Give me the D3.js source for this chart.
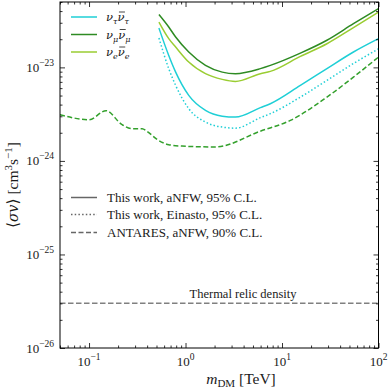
<!DOCTYPE html>
<html>
<head>
<meta charset="utf-8">
<script src="https://cdn.jsdelivr.net/npm/d3@7"></script>
<style>
  body { margin: 0; background: #fff; }
  svg { display: block; }
  text { font-family: "Liberation Serif", "DejaVu Serif", serif; fill: #1a1a1a; }
  .greek { font-family: "DejaVu Serif", serif; font-style: italic; }
</style>
</head>
<body>
<svg id="chart" width="390" height="390"></svg>
<script>
// masses (TeV) shared by the "this work" curves
const massGrid = [0.53, 0.67, 0.79, 1.08, 1.61, 2.4, 3.29, 5.97, 7.57, 15.5, 29.2, 55, 100];

// <sigma v> limits, cm^3 s^-1
const numuANFW  = [3.67e-23, 2.7e-23, 2.11e-23, 1.46e-23, 1.05e-23, 8.9e-24, 8.57e-24, 9.7e-24, 1.05e-23, 1.42e-23, 1.95e-23, 2.93e-23, 4.25e-23];
const nueANFW   = [3.05e-23, 2.03e-23, 1.65e-23, 1.14e-23, 8.57e-24, 7.44e-24, 7.08e-24, 8.57e-24, 9.06e-24, 1.31e-23, 1.79e-23, 2.66e-23, 3.9e-23];
const nutauANFW = [2.63e-23, 1.34e-23, 8.9e-24, 5.02e-24, 3.47e-24, 3.01e-24, 2.94e-24, 3.71e-24, 4.09e-24, 6.42e-24, 9.7e-24, 1.46e-23, 2.03e-23];
const nutauEinasto = [2.06e-23, 9.7e-24, 6.42e-24, 3.62e-24, 2.6e-24, 2.3e-24, 2.24e-24, 2.9e-24, 3.2e-24, 4.81e-24, 7.26e-24, 1.1e-23, 1.58e-23];

// ANTARES aNFW 90% C.L.
const antaresMass = [0.05, 0.1, 0.15, 0.22, 0.28, 0.355, 0.4, 0.51, 0.67, 0.92, 2.04, 5.97, 12.2, 29.2, 55, 100];
const antaresLimit = [3.12e-24, 2.76e-24, 3.44e-24, 2.44e-24, 2.21e-24, 2.21e-24, 2.07e-24, 1.69e-24, 1.49e-24, 1.44e-24, 1.41e-24, 2.08e-24, 2.71e-24, 4.81e-24, 7.87e-24, 1.29e-23];

const thermalRelic = 3e-26;

// ticks
const xMajor = [0.1, 1, 10, 100];
const xMajorExp = ["\u22121", "0", "1", "2"];
const yMajor = [1e-26, 1e-25, 1e-24, 1e-23];
const yMajorExp = ["\u221226", "\u221225", "\u221224", "\u221223"];

const svg = d3.select("#chart");
const L = 60, R = 378.5, T = 2, B = 348;

const x = d3.scaleLog().domain([0.05, 100]).range([L, R]);
const y = d3.scaleLog().domain([1e-26, 5e-23]).range([B, T]);

// minor ticks
const xMinor = [];
[0.01, 0.1, 1, 10].forEach(d => { for (let k = 2; k <= 9; k++) { const v = d * k; if (v >= 0.05 && v <= 100) xMinor.push(v); } });
const yMinor = [];
[1e-26, 1e-25, 1e-24, 1e-23].forEach(d => { for (let k = 2; k <= 9; k++) { const v = d * k; if (v <= 5e-23 * 1.001) yMinor.push(v); } });

svg.append("defs").append("clipPath").attr("id", "clip")
  .append("rect").attr("x", L).attr("y", T).attr("width", R - L).attr("height", B - T);

const plot = svg.append("g").attr("clip-path", "url(#clip)");

const line = d3.line()
  .x(d => x(d[0]))
  .y(d => y(d[1]))
  .curve(d3.curveMonotoneX);

function drawCurve(ms, vs, color, dash) {
  plot.append("path")
    .datum(ms.map((m, i) => [m, vs[i]]))
    .attr("fill", "none")
    .attr("stroke", color)
    .attr("stroke-width", 1.5)
    .attr("stroke-dasharray", dash)
    .attr("d", line);
}

const cTau = "#1fcfd6", cMu = "#2e8b23", cE = "#9acd32", cAnt = "#33a02c";

// thermal relic
plot.append("line")
  .attr("x1", L).attr("x2", R)
  .attr("y1", y(thermalRelic)).attr("y2", y(thermalRelic))
  .attr("stroke", "#808080").attr("stroke-width", 1.5).attr("stroke-dasharray", "5.5,2.5");

drawCurve(antaresMass, antaresLimit, cAnt, "5,2.5");
drawCurve(massGrid, nutauEinasto, cTau, "1.5,2.2");
drawCurve(massGrid, nutauANFW, cTau, null);
drawCurve(massGrid, nueANFW, cE, null);
drawCurve(massGrid, numuANFW, cMu, null);

svg.append("text")
  .attr("x", 243).attr("y", y(thermalRelic) - 5)
  .attr("text-anchor", "middle").attr("font-size", 12.5)
  .text("Thermal relic density");

// axes, ticks inward on all four sides
function addAxis(axisFn, scale, pos, values, size) {
  const g = svg.append("g").attr("transform", pos)
    .call(axisFn(scale).tickValues(values).tickSize(size).tickFormat(""));
  g.select(".domain").remove();
  g.selectAll("line").attr("stroke", "#000").attr("stroke-width", 0.8);
}
addAxis(d3.axisBottom, x, `translate(0,${B})`, xMajor, -5);
addAxis(d3.axisBottom, x, `translate(0,${B})`, xMinor, -2.5);
addAxis(d3.axisTop, x, `translate(0,${T})`, xMajor, -5);
addAxis(d3.axisTop, x, `translate(0,${T})`, xMinor, -2.5);
addAxis(d3.axisLeft, y, `translate(${L},0)`, yMajor, -5);
addAxis(d3.axisLeft, y, `translate(${L},0)`, yMinor, -2.5);
addAxis(d3.axisRight, y, `translate(${R},0)`, yMajor, -5);
addAxis(d3.axisRight, y, `translate(${R},0)`, yMinor, -2.5);

svg.append("rect")
  .attr("x", L).attr("y", T).attr("width", R - L).attr("height", B - T)
  .attr("fill", "none").attr("stroke", "#000").attr("stroke-width", 1);

// tick labels
xMajor.forEach((v, i) => {
  const t = svg.append("text").attr("x", x(v)).attr("y", 366)
    .attr("text-anchor", "middle").attr("font-size", 13);
  t.append("tspan").text("10");
  t.append("tspan").attr("dy", -6).attr("font-size", 9.5).text(xMajorExp[i]);
});
yMajor.forEach((v, i) => {
  const t = svg.append("text").attr("x", 54).attr("y", y(v) + 4.5)
    .attr("text-anchor", "end").attr("font-size", 13);
  t.append("tspan").text("10");
  t.append("tspan").attr("dy", -6).attr("font-size", 9.5).text(yMajorExp[i]);
});

// axis labels
const xl = svg.append("text").attr("x", 241).attr("y", 384)
  .attr("text-anchor", "middle").attr("font-size", 15.5);
xl.append("tspan").attr("font-style", "italic").text("m");
xl.append("tspan").attr("dy", 3).attr("font-size", 11).text("DM");
xl.append("tspan").attr("dy", -3).text(" [TeV]");

const yl = svg.append("text").attr("transform", "translate(18,185) rotate(-90)")
  .attr("text-anchor", "middle").attr("font-size", 15.5);
yl.append("tspan").text("\u27e8");
yl.append("tspan").attr("class", "greek").attr("font-size", 14).text("\u03c3v");
yl.append("tspan").text("\u27e9 [cm");
yl.append("tspan").attr("dy", -6).attr("font-size", 11).text("3");
yl.append("tspan").attr("dy", 6).text("s");
yl.append("tspan").attr("dy", -6).attr("font-size", 11).text("\u22121");
yl.append("tspan").attr("dy", 6).text("]");

// flavour legend: nu_f nubar_f, bar drawn as a short line
const flavours = [
  { sub: "\u03c4", color: cTau },
  { sub: "\u03bc", color: cMu },
  { sub: "e", color: cE }
];
const fl = svg.append("g");
flavours.forEach((f, i) => {
  const yy = 17 + i * 17.5;
  fl.append("line").attr("x1", 71).attr("x2", 97).attr("y1", yy).attr("y2", yy)
    .attr("stroke", f.color).attr("stroke-width", 1.5);
  let xx = 106;
  const pieces = [
    { s: "\u03bd", size: 11.5, dy: 0, bar: false },
    { s: f.sub, size: 8, dy: 3, bar: false },
    { s: "\u03bd", size: 11.5, dy: 0, bar: true },
    { s: f.sub, size: 8, dy: 3, bar: false }
  ];
  pieces.forEach(p => {
    const t = fl.append("text").attr("class", "greek")
      .attr("x", xx).attr("y", yy + 4 + p.dy).attr("font-size", p.size).text(p.s);
    const w = t.node().getComputedTextLength();
    if (p.bar) {
      fl.append("line").attr("x1", xx + 1.5).attr("x2", xx + w + 0.5)
        .attr("y1", yy - 5).attr("y2", yy - 5)
        .attr("stroke", "#1a1a1a").attr("stroke-width", 0.8);
    }
    xx += w;
  });
});

// style legend
const styles = [
  { label: "This work, aNFW, 95% C.L.", dash: null },
  { label: "This work, Einasto, 95% C.L.", dash: "1.5,2.2" },
  { label: "ANTARES, aNFW, 90% C.L.", dash: "5,2.5" }
];
const sl = svg.append("g");
[197.5, 214.5, 232.5].forEach((yy, i) => {
  sl.append("line").attr("x1", 71).attr("x2", 97).attr("y1", yy).attr("y2", yy)
    .attr("stroke", "#666").attr("stroke-width", 1.5)
    .attr("stroke-dasharray", styles[i].dash);
  sl.append("text").attr("x", 107).attr("y", yy + 4.5).attr("font-size", 13)
    .text(styles[i].label);
});
</script>
</body>
</html>
